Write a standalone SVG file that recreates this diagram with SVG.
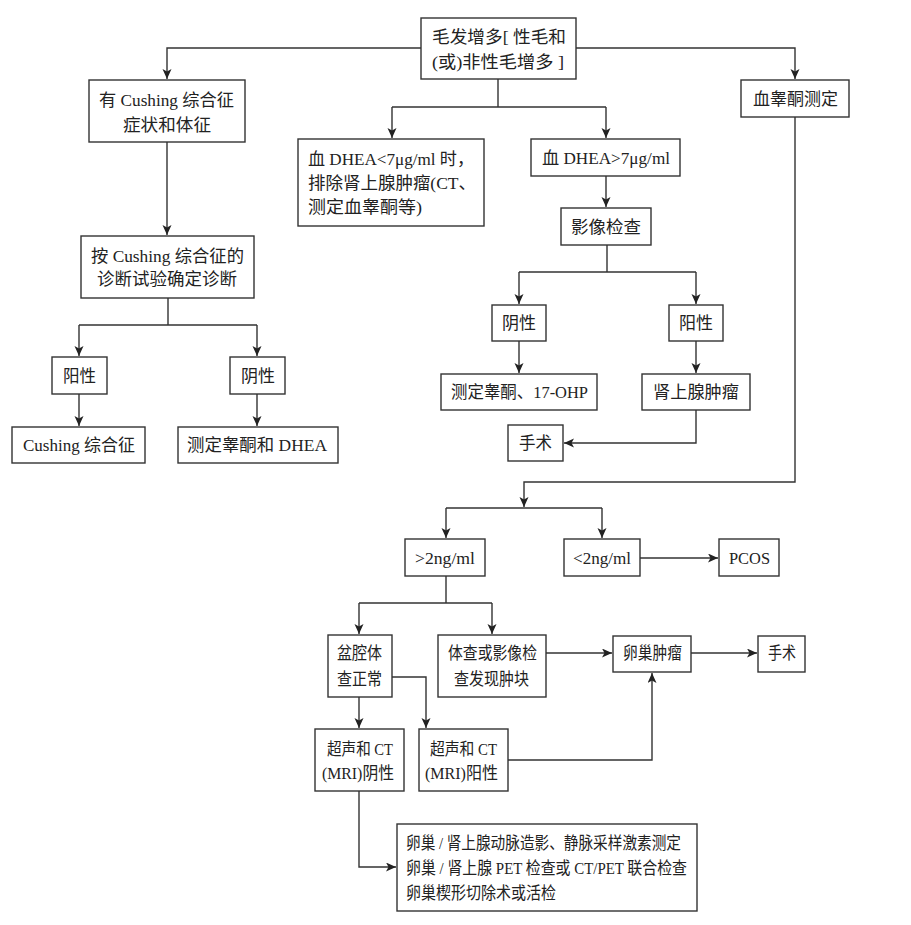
<svg xmlns="http://www.w3.org/2000/svg" width="911" height="925" viewBox="0 0 911 925">
<style>
.b{fill:#fff;stroke:#333;stroke-width:1.4}
.c{fill:none;stroke:#333;stroke-width:1.4}
text{font-family:"Liberation Serif","Noto Sans CJK SC",serif;font-size:17px;fill:#222}
</style>
<defs>
<marker id="ah" markerUnits="userSpaceOnUse" markerWidth="11" markerHeight="10" refX="10" refY="4.5" orient="auto">
<path d="M0,0 L10,4.5 L0,9 L2.5,4.5 z" fill="#222"/>
</marker>
</defs>
<rect width="911" height="925" fill="#fff"/>
<g id="connectors">
<path class="c" d="M421,48 H167 V79" marker-end="url(#ah)"/>
<path class="c" d="M576,48 H795 V79" marker-end="url(#ah)"/>
<path class="c" d="M498,79 V107 M392,107 H606"/>
<path class="c" d="M392,107 V138" marker-end="url(#ah)"/>
<path class="c" d="M606,107 V138" marker-end="url(#ah)"/>
<path class="c" d="M167,142 V235" marker-end="url(#ah)"/>
<path class="c" d="M168,298 V325 M79,325 H257"/>
<path class="c" d="M79,325 V356" marker-end="url(#ah)"/>
<path class="c" d="M257,325 V356" marker-end="url(#ah)"/>
<path class="c" d="M79,394 V426" marker-end="url(#ah)"/>
<path class="c" d="M257,394 V426" marker-end="url(#ah)"/>
<path class="c" d="M606,176 V207" marker-end="url(#ah)"/>
<path class="c" d="M607,245 V272 M519,272 H696"/>
<path class="c" d="M519,272 V304" marker-end="url(#ah)"/>
<path class="c" d="M696,272 V304" marker-end="url(#ah)"/>
<path class="c" d="M519,341 V373" marker-end="url(#ah)"/>
<path class="c" d="M696,341 V373" marker-end="url(#ah)"/>
<path class="c" d="M696,410 V443 H564" marker-end="url(#ah)"/>
<path class="c" d="M795,117 V482 H524 V507" marker-end="url(#ah)"/>
<path class="c" d="M446,508 H602"/>
<path class="c" d="M446,508 V538" marker-end="url(#ah)"/>
<path class="c" d="M602,508 V538" marker-end="url(#ah)"/>
<path class="c" d="M640,558 H718" marker-end="url(#ah)"/>
<path class="c" d="M446,576 V603 M359,603 H492"/>
<path class="c" d="M359,603 V634" marker-end="url(#ah)"/>
<path class="c" d="M492,603 V634" marker-end="url(#ah)"/>
<path class="c" d="M546,653 H612" marker-end="url(#ah)"/>
<path class="c" d="M691,653 H757" marker-end="url(#ah)"/>
<path class="c" d="M359,697 V728" marker-end="url(#ah)"/>
<path class="c" d="M392,677 H426 V728" marker-end="url(#ah)"/>
<path class="c" d="M508,760 H652 V673" marker-end="url(#ah)"/>
<path class="c" d="M359,791 V867 H396" marker-end="url(#ah)"/>
</g>
<g id="n_top"><rect class="b" x="421" y="18" width="155" height="61"/>
<text x="432" y="43" textLength="134" lengthAdjust="spacingAndGlyphs">毛发增多[ 性毛和</text>
<text x="432" y="68" textLength="132" lengthAdjust="spacingAndGlyphs">(或)非性毛增多 ]</text></g>
<g id="n_cushing_sym"><rect class="b" x="89" y="80" width="156" height="62"/>
<text x="99" y="106" textLength="135" lengthAdjust="spacingAndGlyphs">有 Cushing 综合征</text>
<text x="123" y="131" textLength="88" lengthAdjust="spacingAndGlyphs">症状和体征</text></g>
<g id="n_diag"><rect class="b" x="81" y="236" width="173" height="62"/>
<text x="91" y="262" textLength="153" lengthAdjust="spacingAndGlyphs">按 Cushing 综合征的</text>
<text x="97" y="285" textLength="140" lengthAdjust="spacingAndGlyphs">诊断试验确定诊断</text></g>
<g id="n_pos_l"><rect class="b" x="52" y="357" width="55" height="37"/>
<text x="63" y="382" textLength="33" lengthAdjust="spacingAndGlyphs">阳性</text></g>
<g id="n_neg_l"><rect class="b" x="230" y="357" width="55" height="37"/>
<text x="241" y="382" textLength="34" lengthAdjust="spacingAndGlyphs">阴性</text></g>
<g id="n_cushing"><rect class="b" x="12" y="427" width="133" height="36"/>
<text x="23" y="451" textLength="112" lengthAdjust="spacingAndGlyphs">Cushing 综合征</text></g>
<g id="n_test_dhea"><rect class="b" x="178" y="427" width="160" height="36"/>
<text x="187" y="451" textLength="140" lengthAdjust="spacingAndGlyphs">测定睾酮和 DHEA</text></g>
<g id="n_dhea_low"><rect class="b" x="298" y="139" width="186" height="87"/>
<text x="308" y="165" textLength="166" lengthAdjust="spacingAndGlyphs">血 DHEA&lt;7μg/ml 时，</text>
<text x="308" y="189" textLength="168" lengthAdjust="spacingAndGlyphs">排除肾上腺肿瘤(CT、</text>
<text x="308" y="213" textLength="114" lengthAdjust="spacingAndGlyphs">测定血睾酮等)</text></g>
<g id="n_dhea_high"><rect class="b" x="531" y="139" width="149" height="37"/>
<text x="542" y="164" textLength="128" lengthAdjust="spacingAndGlyphs">血 DHEA&gt;7μg/ml</text></g>
<g id="n_imaging"><rect class="b" x="561" y="208" width="90" height="37"/>
<text x="571" y="233" textLength="70" lengthAdjust="spacingAndGlyphs">影像检查</text></g>
<g id="n_neg_m"><rect class="b" x="492" y="305" width="54" height="36"/>
<text x="502" y="329" textLength="34" lengthAdjust="spacingAndGlyphs">阴性</text></g>
<g id="n_pos_m"><rect class="b" x="669" y="305" width="54" height="36"/>
<text x="679" y="329" textLength="34" lengthAdjust="spacingAndGlyphs">阳性</text></g>
<g id="n_17ohp"><rect class="b" x="441" y="374" width="156" height="36"/>
<text x="451" y="398" textLength="137" lengthAdjust="spacingAndGlyphs">测定睾酮、17-OHP</text></g>
<g id="n_adrenal"><rect class="b" x="642" y="374" width="108" height="36"/>
<text x="653" y="398" textLength="86" lengthAdjust="spacingAndGlyphs">肾上腺肿瘤</text></g>
<g id="n_surgery1"><rect class="b" x="508" y="425" width="55" height="36"/>
<text x="519" y="449" textLength="33" lengthAdjust="spacingAndGlyphs">手术</text></g>
<g id="n_testo"><rect class="b" x="741" y="80" width="108" height="37"/>
<text x="753" y="105" textLength="85" lengthAdjust="spacingAndGlyphs">血睾酮测定</text></g>
<g id="n_gt2"><rect class="b" x="405" y="539" width="80" height="37"/>
<text x="415" y="564" textLength="60" lengthAdjust="spacingAndGlyphs">&gt;2ng/ml</text></g>
<g id="n_lt2"><rect class="b" x="564" y="539" width="76" height="37"/>
<text x="573" y="564" textLength="58" lengthAdjust="spacingAndGlyphs">&lt;2ng/ml</text></g>
<g id="n_pcos"><rect class="b" x="719" y="539" width="60" height="37"/>
<text x="729" y="564" textLength="41" lengthAdjust="spacingAndGlyphs">PCOS</text></g>
<g id="n_pelvic"><rect class="b" x="328" y="635" width="64" height="62"/>
<text x="337" y="659" textLength="45" lengthAdjust="spacingAndGlyphs">盆腔体</text>
<text x="337" y="685" textLength="45" lengthAdjust="spacingAndGlyphs">查正常</text></g>
<g id="n_mass"><rect class="b" x="438" y="635" width="108" height="62"/>
<text x="448" y="659" textLength="89" lengthAdjust="spacingAndGlyphs">体查或影像检</text>
<text x="454" y="685" textLength="75" lengthAdjust="spacingAndGlyphs">查发现肿块</text></g>
<g id="n_ovary"><rect class="b" x="613" y="636" width="78" height="36"/>
<text x="623" y="659" textLength="59" lengthAdjust="spacingAndGlyphs">卵巢肿瘤</text></g>
<g id="n_surgery2"><rect class="b" x="758" y="636" width="47" height="36"/>
<text x="768" y="659" textLength="28" lengthAdjust="spacingAndGlyphs">手术</text></g>
<g id="n_us_neg"><rect class="b" x="315" y="729" width="89" height="62"/>
<text x="327" y="755" textLength="66" lengthAdjust="spacingAndGlyphs">超声和 CT</text>
<text x="322" y="779" textLength="72" lengthAdjust="spacingAndGlyphs">(MRI)阴性</text></g>
<g id="n_us_pos"><rect class="b" x="419" y="729" width="89" height="62"/>
<text x="430" y="755" textLength="67" lengthAdjust="spacingAndGlyphs">超声和 CT</text>
<text x="425" y="779" textLength="73" lengthAdjust="spacingAndGlyphs">(MRI)阳性</text></g>
<g id="n_further"><rect class="b" x="397" y="824" width="300" height="87"/>
<text x="406" y="849" textLength="275" lengthAdjust="spacingAndGlyphs">卵巢 / 肾上腺动脉造影、静脉采样激素测定</text>
<text x="406" y="874" textLength="281" lengthAdjust="spacingAndGlyphs">卵巢 / 肾上腺 PET 检查或 CT/PET 联合检查</text>
<text x="406" y="899" textLength="150" lengthAdjust="spacingAndGlyphs">卵巢楔形切除术或活检</text></g>
</svg>
